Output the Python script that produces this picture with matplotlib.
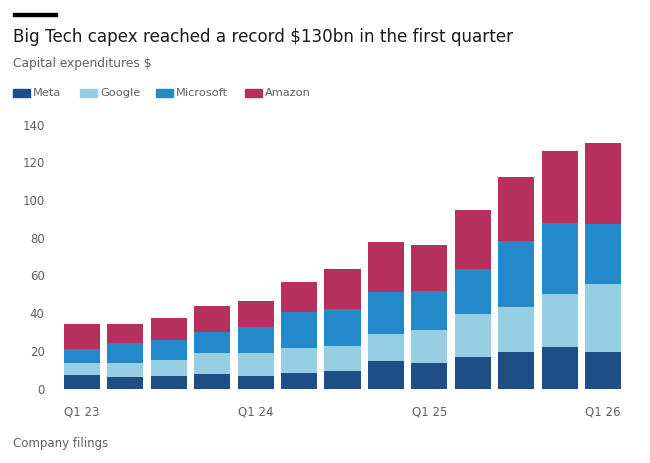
import matplotlib
matplotlib.use("Agg")
from matplotlib import pyplot as plt
import matplotlib.patches as patch
import numpy as np

# quarters Q1 23 .. Q1 26
quarters = ["Q1 23", "Q2 23", "Q3 23", "Q4 23", "Q1 24", "Q2 24", "Q3 24",
            "Q4 24", "Q1 25", "Q2 25", "Q3 25", "Q4 25", "Q1 26"]
meta = [7.0, 6.1, 6.5, 7.7, 6.5, 8.3, 9.2, 14.9, 13.6, 16.7, 19.2, 22.2, 19.7]
google = [6.6, 7.5, 8.5, 11.3, 12.2, 13.1, 13.2, 14.2, 17.3, 22.8, 24.2, 28.1, 35.8]
microsoft = [7.6, 10.6, 11.0, 11.3, 14.0, 19.2, 20.0, 22.4, 21.1, 24.0, 35.0, 37.5, 31.7]
amazon = [13.1, 10.1, 11.3, 13.3, 13.8, 16.2, 21.0, 26.0, 24.3, 31.3, 33.7, 38.2, 42.9]

series = [("Meta", meta, "#1d4f86"),
          ("Google", google, "#96cfe3"),
          ("Microsoft", microsoft, "#2489c8"),
          ("Amazon", amazon, "#b5305c")]

grey = "#66605c"
fig = plt.figure(figsize=(6.5, 4.63), dpi=100)
ax = fig.add_axes([0.0923, 0.1605, 0.8692, 0.5705])

x = np.arange(len(quarters))
bottom = np.zeros(len(quarters))
for name, vals, col in series:
    ax.bar(x, vals, width=0.83, bottom=bottom, color=col, label=name)
    bottom += np.array(vals)

ax.set_xlim(-0.5, len(quarters) - 0.5)
ax.set_ylim(0, 140)
ax.set_yticks(range(0, 141, 20))
ax.set_xticks(x[::4])
ax.set_xticklabels(quarters[::4])
for s in ax.spines.values():
    s.set_visible(False)
ax.tick_params(length=0, labelsize=8.5, labelcolor=grey)
ax.tick_params(axis="y", pad=11)
ax.tick_params(axis="x", pad=12)

# header
fig.patches.append(patch.Rectangle((13 / 650, 1 - 16 / 463), 44 / 650, 3 / 463,
                                   transform=fig.transFigure, color="black"))
fig.text(13 / 650, 1 - 37 / 463, "Big Tech capex reached a record $130bn in the first quarter",
         fontsize=12.1, va="center", ha="left", color="#1a1a1a")
fig.text(13 / 650, 1 - 64 / 463, "Capital expenditures $", fontsize=8.8,
         va="center", ha="left", color=grey)

# legend
lx = [13, 80, 156, 245]
for (name, vals, col), px in zip(series, lx):
    fig.patches.append(patch.Rectangle((px / 650, 1 - 97 / 463), 17 / 650, 8 / 463,
                                       transform=fig.transFigure, color=col))
    fig.text((px + 20) / 650, 1 - 93 / 463, name, fontsize=8.2, va="center",
             ha="left", color=grey)

fig.text(13 / 650, 1 - 443 / 463, "Company filings", fontsize=8.5, va="center",
         ha="left", color=grey)

fig.savefig("out.png", dpi=100)
